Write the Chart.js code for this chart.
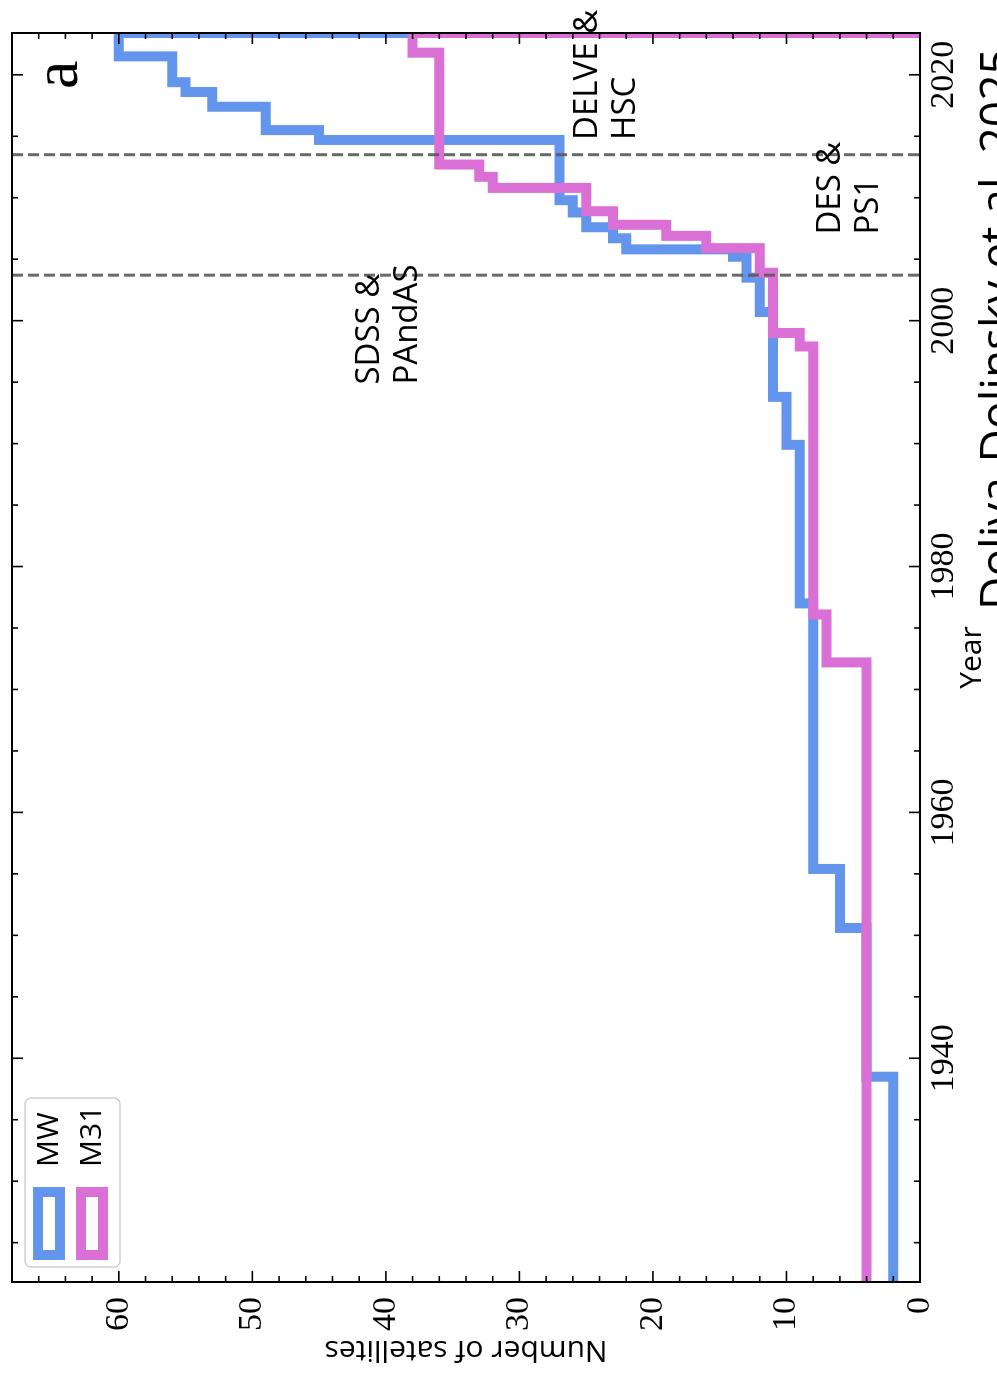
<!DOCTYPE html>
<html lang="es">
<head>
<meta charset="utf-8">
<title>Satélites de la Vía Láctea y M31</title>
<script src="https://cdn.jsdelivr.net/npm/chart.js@4.4.1/dist/chart.umd.min.js"></script>
<style>
  html, body { margin: 0; padding: 0; background: #fff; overflow: hidden; }
  /* La figura viene girada 90° a la izquierda: se dibuja en horizontal y se gira el marco entero. */
  #marco {
    position: absolute; left: 0; top: 0;
    width: 1381px; height: 997px; overflow: hidden; background: #fff;
    transform-origin: 0 0;
    transform: translate(0, 1381px) rotate(-90deg);
  }
  #grafico { position: absolute; left: 0; top: 0; }
  #cita {
    position: absolute; left: 771px; top: 972px;
    font: 46px/46px "Open Sans", sans-serif; color: #000; white-space: nowrap;
  }
</style>
</head>
<body>
<div id="marco">
  <canvas id="grafico" width="1381" height="1040"></canvas>
  <div id="cita">Doliva-Dolinsky et al. 2025</div>
</div>
<script>
/* Datos: año en que cambia el acumulado y el nuevo total. */
const MW_YEARS   = [1921, 1938.5, 1950.6, 1955.4, 1977.0, 1989.9, 1993.8, 2000.7, 2003.5, 2005.2,
                    2005.8, 2006.7, 2007.6, 2008.8, 2009.8, 2014.7, 2015.5, 2017.4, 2018.6, 2019.4, 2021.5];
const MW_COUNTS  = [2, 4, 6, 8, 9, 10, 11, 12, 13, 14,
                    22, 23, 25, 26, 27, 45, 49, 53, 55, 56, 60];
const M31_YEARS  = [1921, 1972.2, 1976.1, 1997.9, 1999.0, 2003.9, 2005.9, 2006.9, 2007.8, 2008.9,
                    2010.8, 2011.7, 2012.7, 2021.8];
const M31_COUNTS = [4, 7, 8, 9, 11, 12, 16, 19, 23, 25,
                    32, 33, 36, 38];
const END_YEAR = 2023.4;          // el histograma se cierra aquí, justo en el borde
const SURVEY_YEARS = [2003.7, 2013.5];

const YEAR_TICKS  = [1940, 1960, 1980, 2000, 2020];
const COUNT_TICKS = [0, 10, 20, 30, 40, 50, 60];
const X_MIN = 1921.8, X_MAX = END_YEAR;
const Y_MIN = 0, Y_MAX = 68;

const AZUL = '#6495ed';      // cornflowerblue
const ORQUIDEA = '#da70d6';  // orchid

// Puntos de la escalera; el último baja a cero en el borde derecho.
function escalera(anios, cuentas) {
  const pts = anios.map((a, i) => ({ x: a, y: cuentas[i] }));
  pts.push({ x: END_YEAR, y: 0 });
  return pts;
}

const SANS = '"Open Sans", "DejaVu Sans", sans-serif';
const SERIF = '"Liberation Serif", "DejaVu Serif", serif';

/* Textos sobre el gráfico, anclados en coordenadas de datos. */
const ANOTACIONES = [
  { lineas: ['SDSS &', 'PAndAS'], anio: 1994.8, cuenta: 41.2 },
  { lineas: ['DELVE &', 'HSC'],   anio: 2014.7, cuenta: 24.9 },
  { lineas: ['DES &', 'PS1'],     anio: 2007.0, cuenta: 6.7 },
];

const marcas = {
  id: 'marcas',
  afterDatasetsDraw(chart) {
    const { ctx, chartArea: a, scales: { x } } = chart;
    ctx.save();
    ctx.beginPath();
    ctx.rect(a.left, a.top, a.right - a.left, a.bottom - a.top);
    ctx.clip();
    ctx.strokeStyle = 'rgba(90,90,90,0.9)';
    ctx.lineWidth = 3;
    ctx.setLineDash([11, 5]);
    SURVEY_YEARS.forEach((v) => {
      const px = x.getPixelForValue(v);
      ctx.beginPath();
      ctx.moveTo(px, a.top);
      ctx.lineTo(px, a.bottom);
      ctx.stroke();
    });
    ctx.restore();
  },
  afterDraw(chart) {
    const { ctx, chartArea: a, scales: { x, y } } = chart;
    ctx.save();

    // Marco y marcas hacia dentro en los cuatro lados, al estilo matplotlib.
    ctx.strokeStyle = '#000';
    ctx.lineWidth = 2;
    ctx.strokeRect(a.left, a.top, a.right - a.left, a.bottom - a.top);
    const raya = (x1, y1, x2, y2) => { ctx.beginPath(); ctx.moveTo(x1, y1); ctx.lineTo(x2, y2); ctx.stroke(); };
    ctx.lineWidth = 1.6;
    for (let v = 1925; v < X_MAX; v += 5) {
      const largo = YEAR_TICKS.includes(v) ? 11 : 6;
      const px = x.getPixelForValue(v);
      raya(px, a.bottom, px, a.bottom - largo);
      raya(px, a.top, px, a.top + largo);
    }
    for (let v = 2; v < Y_MAX; v += 2) {
      const largo = COUNT_TICKS.includes(v) ? 11 : 6;
      const py = y.getPixelForValue(v);
      raya(a.left, py, a.left + largo, py);
      raya(a.right, py, a.right - largo, py);
    }

    // Leyenda con rectángulos huecos.
    const L = { x: a.left + 15, y: a.top + 13, w: 169, h: 95 };
    ctx.fillStyle = 'rgba(255,255,255,0.85)';
    ctx.strokeStyle = '#cfcfcf';
    ctx.lineWidth = 1.5;
    ctx.beginPath();
    ctx.roundRect(L.x, L.y, L.w, L.h, 6);
    ctx.fill();
    ctx.stroke();
    chart.data.datasets.forEach((d, i) => {
      const cy = L.y + 24 + i * 43;
      ctx.strokeStyle = d.borderColor;
      ctx.lineWidth = 10;
      ctx.lineJoin = 'miter';
      ctx.strokeRect(L.x + 12, cy - 11, 63, 22);
      ctx.fillStyle = '#000';
      ctx.font = '30px ' + SANS;
      ctx.textAlign = 'left';
      ctx.textBaseline = 'middle';
      ctx.fillText(d.label, L.x + 100, cy);
    });

    // Nombres de los cartografiados.
    ctx.fillStyle = '#000';
    ctx.font = '33px ' + SANS;
    ctx.textAlign = 'left';
    ctx.textBaseline = 'middle';
    ANOTACIONES.forEach((t) => {
      const px = x.getPixelForValue(t.anio);
      const py = y.getPixelForValue(t.cuenta);
      t.lineas.forEach((txt, k) => ctx.fillText(txt, px, py + k * 38));
    });

    // Letra del panel.
    ctx.font = '64px ' + SERIF;
    ctx.textAlign = 'center';
    ctx.textBaseline = 'alphabetic';
    ctx.fillText('a', x.getPixelForValue(2020.0), y.getPixelForValue(63.1));
    ctx.restore();
  },
};

const serie = (label, color, anios, cuentas, orden) => ({
  label, data: escalera(anios, cuentas),
  borderColor: color, backgroundColor: color, borderWidth: 10,
  stepped: 'before', fill: false, pointRadius: 0,
  borderJoinStyle: 'miter', borderCapStyle: 'butt', clip: 0, order: orden,
});

new Chart(document.getElementById('grafico'), {
  type: 'line',
  data: {
    datasets: [
      serie('MW', AZUL, MW_YEARS, MW_COUNTS, 2),
      serie('M31', ORQUIDEA, M31_YEARS, M31_COUNTS, 1),
    ],
  },
  options: {
    responsive: false,
    animation: false,
    devicePixelRatio: 1,
    layout: { padding: { left: 0, right: 33, top: 12, bottom: 0 } },
    plugins: { legend: { display: false }, tooltip: { enabled: false } },
    scales: {
      x: {
        type: 'linear', min: X_MIN, max: X_MAX,
        afterBuildTicks: (s) => { s.ticks = YEAR_TICKS.map((v) => ({ value: v })); },
        // Alto fijo y sin relleno extra por las etiquetas de los extremos.
        afterFit: (s) => { s.height = 120; s.paddingLeft = 0; s.paddingRight = 0; },
        grid: { display: false, drawTicks: false },
        border: { display: false },
        ticks: {
          padding: 4, color: '#000', autoSkip: false, maxRotation: 0,
          font: { family: SERIF, size: 34 },
          callback: (v) => String(v),
        },
        title: {
          display: true, text: 'Year', color: '#000',
          font: { family: SANS, size: 30 }, padding: { top: 0, bottom: 50 },
        },
      },
      y: {
        type: 'linear', min: Y_MIN, max: Y_MAX,
        afterBuildTicks: (s) => { s.ticks = COUNT_TICKS.map((v) => ({ value: v })); },
        afterFit: (s) => { s.width = 99; s.paddingTop = 0; s.paddingBottom = 0; },
        grid: { display: false, drawTicks: false },
        border: { display: false },
        ticks: {
          padding: 15, color: '#000', autoSkip: false,
          font: { family: SERIF, size: 34 },
          callback: (v) => String(v),
        },
        title: {
          display: true, text: 'Number of satellites', color: '#000',
          font: { family: SANS, size: 30 }, padding: { top: 13, bottom: 0 },
        },
      },
    },
  },
  plugins: [marcas],
});
</script>
</body>
</html>
